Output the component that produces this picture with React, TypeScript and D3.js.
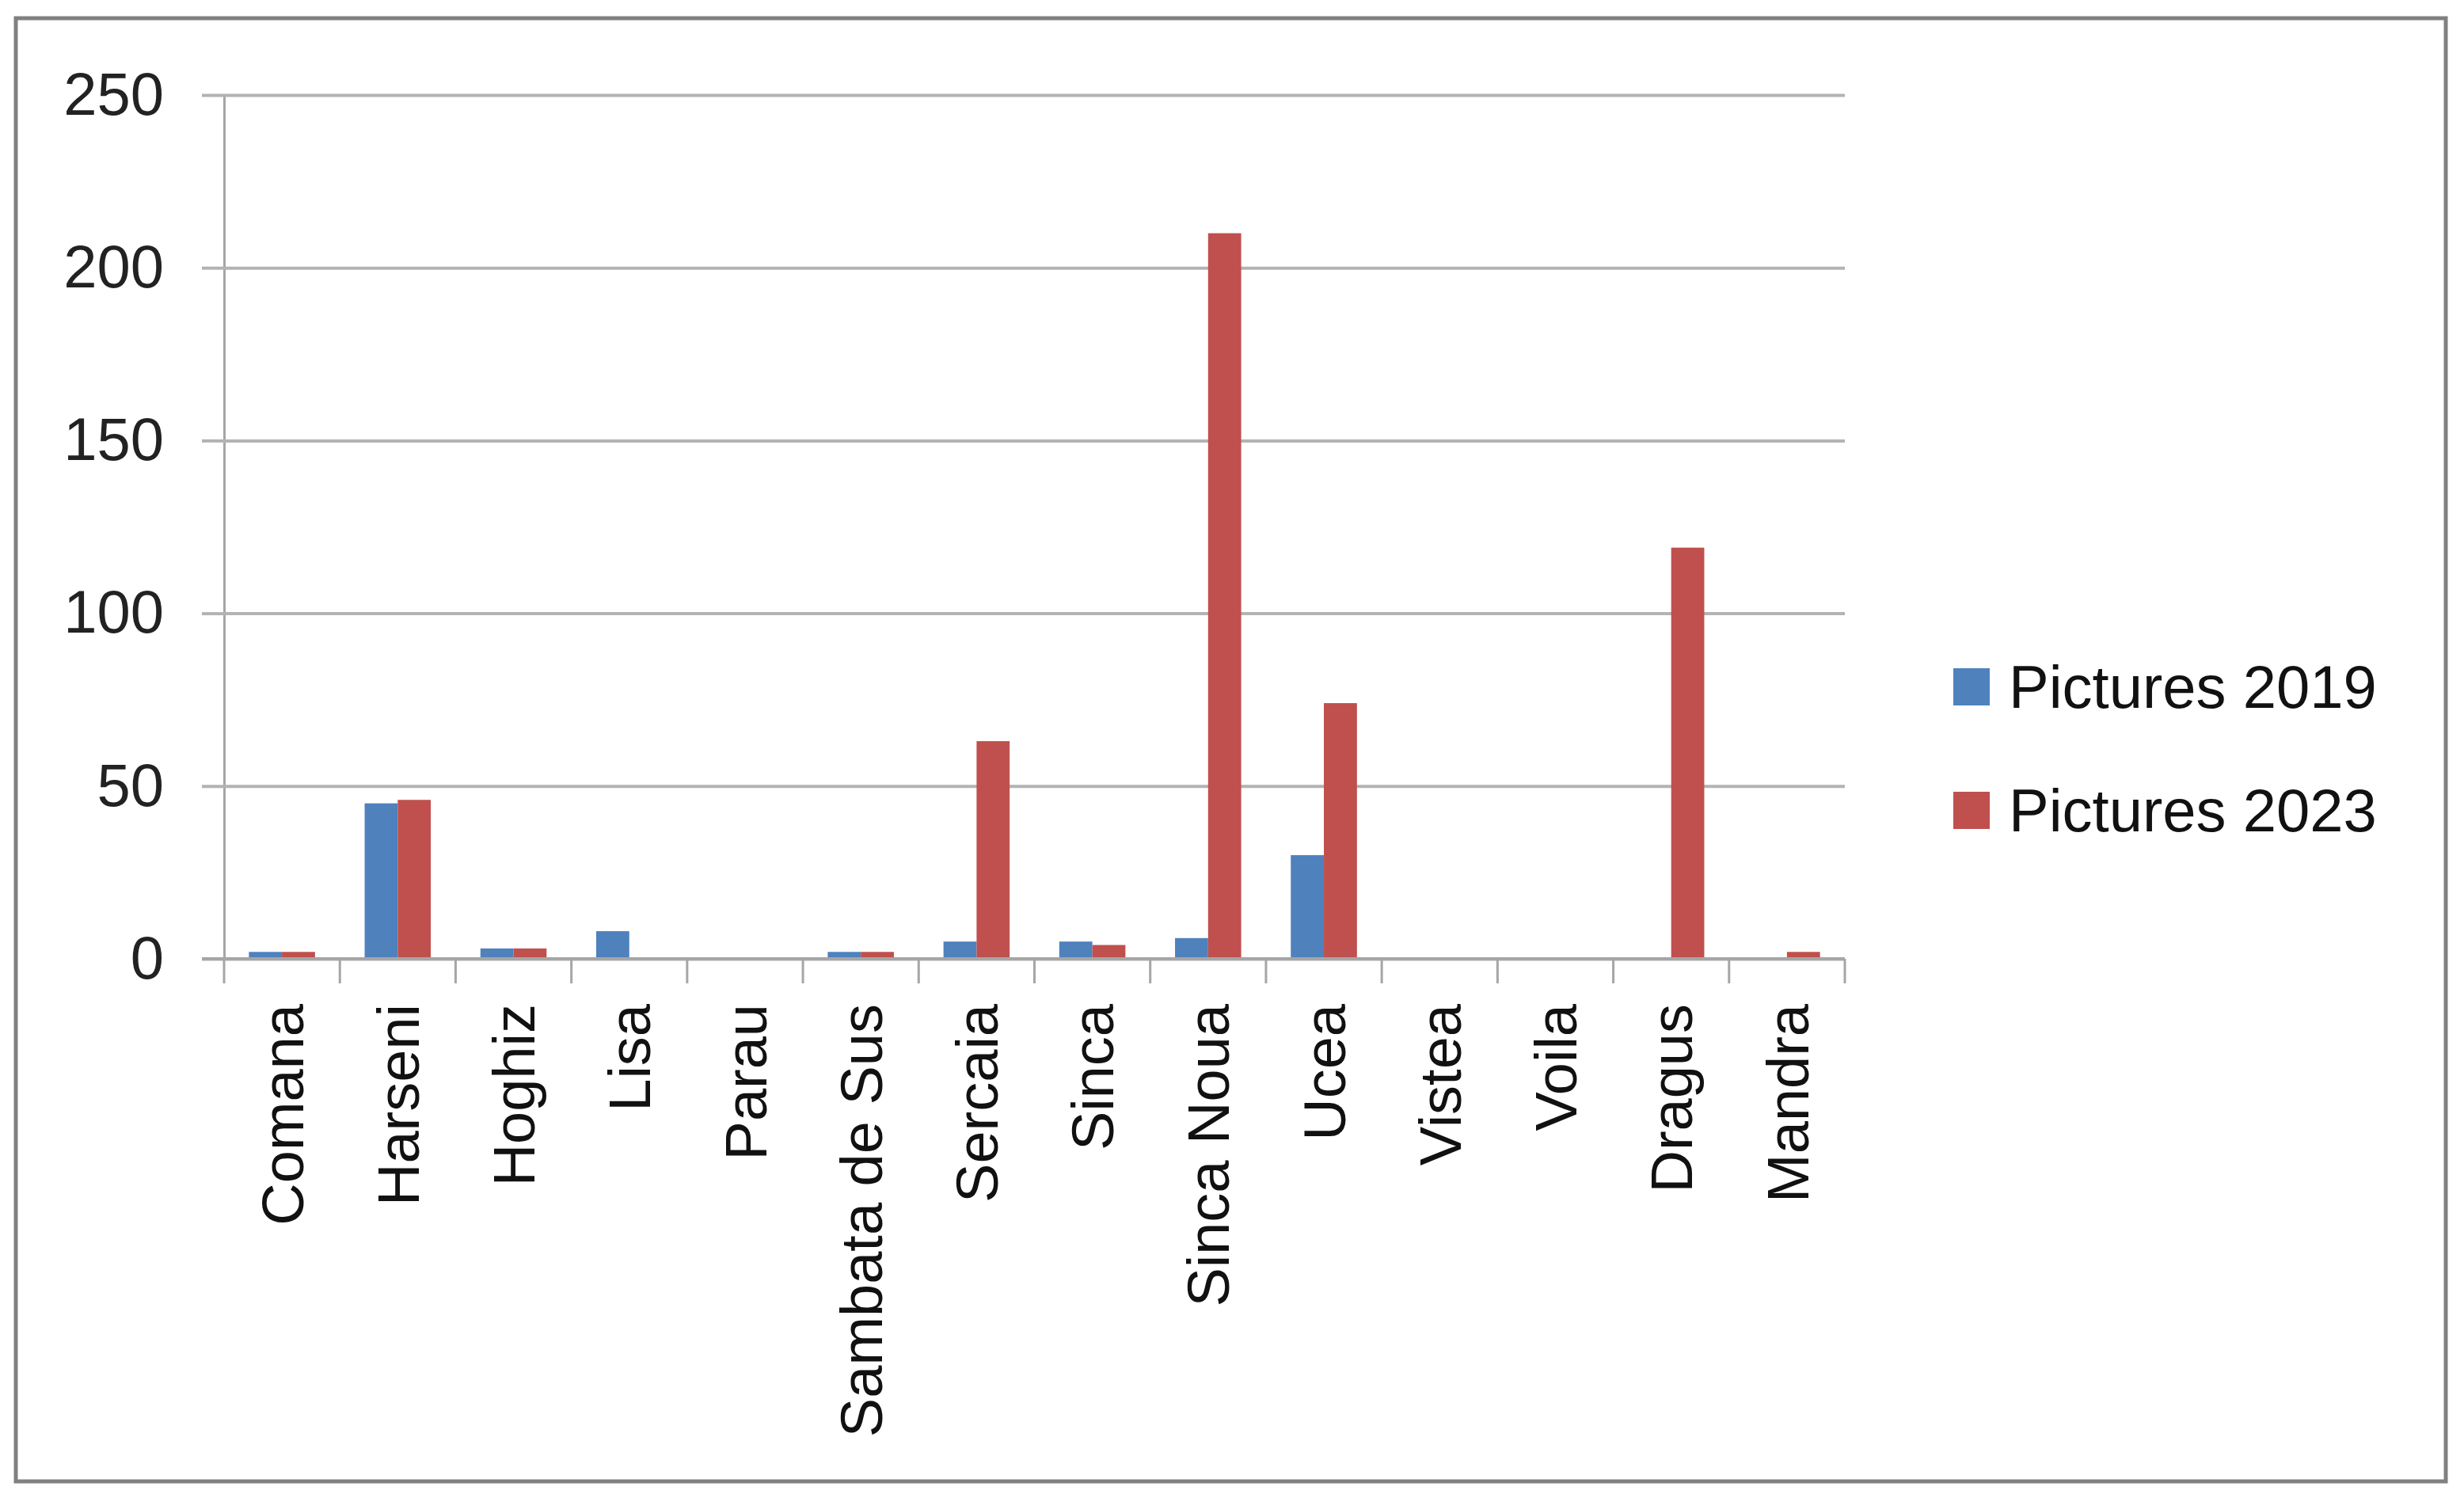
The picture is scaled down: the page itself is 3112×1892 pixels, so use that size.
import React, { useEffect, useRef } from "react";
import * as d3 from "d3";

const categories = [
  "Comana",
  "Harseni",
  "Hoghiz",
  "Lisa",
  "Parau",
  "Sambata de Sus",
  "Sercaia",
  "Sinca",
  "Sinca Noua",
  "Ucea",
  "Vistea",
  "Voila",
  "Dragus",
  "Mandra",
];
const pictures2019 = [2, 45, 3, 8, 0, 2, 5, 5, 6, 30, 0, 0, 0, 0];
const pictures2023 = [2, 46, 3, 0, 0, 2, 63, 4, 210, 74, 0, 0, 119, 2];
const seriesNames = ["Pictures 2019", "Pictures 2023"];
const seriesColors = ["#4F81BD", "#C0504D"];
const yTicks = [0, 50, 100, 150, 200, 250];

const W = 3112;
const H = 1892;
const left = 283;
const right = 2330;
const top = 120;
const bottom = 1211;
const font = "'Liberation Sans', Arial, sans-serif";

export default function App() {
  const svgRef = useRef<SVGSVGElement>(null);

  useEffect(() => {
    document.body.style.margin = "0";
    const svg = d3.select(svgRef.current);
    svg.selectAll("*").remove();

    const x0 = d3.scaleBand().domain(categories).range([left, right]).padding(0);
    const x1 = d3
      .scaleBand()
      .domain(seriesNames)
      .range([0, x0.bandwidth()])
      .paddingInner(0)
      .paddingOuter(0.75);
    const y = d3.scaleLinear().domain([0, 250]).range([bottom, top]);

    svg.append("rect").attr("width", W).attr("height", H).attr("fill", "#fff");

    // outer frame
    svg
      .append("rect")
      .attr("x", 20)
      .attr("y", 23)
      .attr("width", 3069)
      .attr("height", 1848)
      .attr("fill", "none")
      .attr("stroke", "#808080")
      .attr("stroke-width", 5);

    // gridlines + y axis
    const yAxis = svg
      .append("g")
      .attr("transform", `translate(${left},0)`)
      .call(
        d3
          .axisLeft(y)
          .tickValues(yTicks)
          .tickSize(28)
          .tickPadding(48)
          .tickFormat(d3.format("d"))
      );
    yAxis.select(".domain").attr("stroke", "#a6a6a6").attr("stroke-width", 3);
    yAxis.selectAll(".tick line").attr("stroke", "#b3b3b3").attr("stroke-width", 4);
    yAxis
      .selectAll(".tick line")
      .clone()
      .attr("x1", 0)
      .attr("x2", right - left)
      .attr("stroke", "#b3b3b3")
      .attr("stroke-width", 4);
    yAxis
      .selectAll(".tick text")
      .attr("font-family", font)
      .attr("font-size", 76)
      .attr("fill", "#222");

    // bars
    const groups = svg
      .append("g")
      .selectAll("g")
      .data(categories)
      .join("g")
      .attr("transform", (d) => `translate(${x0(d)},0)`);
    groups
      .selectAll("rect")
      .data((_, i) => [pictures2019[i], pictures2023[i]].map((v, s) => ({ v, s })))
      .join("rect")
      .attr("x", (d) => x1(seriesNames[d.s])!)
      .attr("width", x1.bandwidth())
      .attr("y", (d) => y(d.v))
      .attr("height", (d) => y(0) - y(d.v))
      .attr("fill", (d) => seriesColors[d.s]);

    // x axis
    const xAxis = svg.append("g");
    xAxis
      .append("line")
      .attr("x1", left - 28)
      .attr("x2", right)
      .attr("y1", y(0))
      .attr("y2", y(0))
      .attr("stroke", "#a6a6a6")
      .attr("stroke-width", 4);
    const bounds = categories.map((c) => x0(c)!).concat([right]);
    xAxis
      .selectAll("line.tk")
      .data(bounds)
      .join("line")
      .attr("class", "tk")
      .attr("x1", (d) => d)
      .attr("x2", (d) => d)
      .attr("y1", y(0))
      .attr("y2", y(0) + 31)
      .attr("stroke", "#a6a6a6")
      .attr("stroke-width", 3);
    xAxis
      .selectAll("text")
      .data(categories)
      .join("text")
      .attr(
        "transform",
        (d) => `translate(${x0(d)! + x0.bandwidth() / 2},1268) rotate(-90)`
      )
      .attr("text-anchor", "end")
      .attr("dy", "0.36em")
      .attr("font-family", font)
      .attr("font-size", 74)
      .attr("fill", "#111")
      .text((d) => d);

    // legend
    const legend = svg
      .append("g")
      .selectAll("g")
      .data(seriesNames)
      .join("g")
      .attr("transform", (_, i) => `translate(2467,${867 + i * 156})`);
    legend
      .append("rect")
      .attr("x", 0)
      .attr("y", -23)
      .attr("width", 46)
      .attr("height", 47)
      .attr("fill", (_, i) => seriesColors[i]);
    legend
      .append("text")
      .attr("x", 70)
      .attr("dy", "0.35em")
      .attr("font-family", font)
      .attr("font-size", 76)
      .attr("fill", "#111")
      .text((d) => d);
  }, []);

  return (
    <svg
      ref={svgRef}
      width={W}
      height={H}
      style={{ position: "absolute", left: 0, top: 0, display: "block" }}
    />
  );
}
